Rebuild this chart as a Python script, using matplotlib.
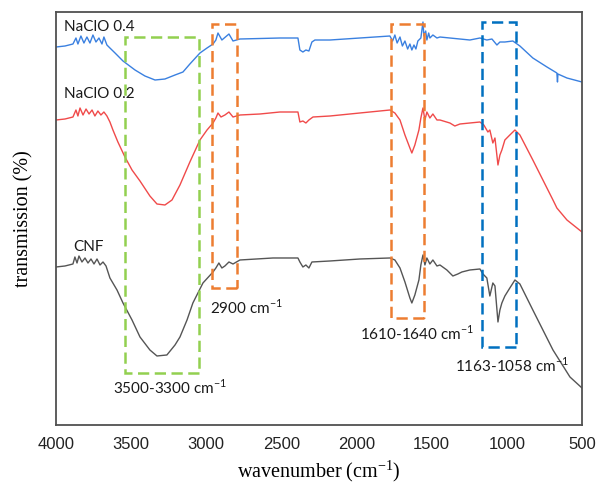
import matplotlib
matplotlib.use("Agg")
import matplotlib.pyplot as plt
from matplotlib.patches import Rectangle

# ── Data (transmission in arbitrary offset units) ─────────────────────────────
wn_04 = [4000, 3940, 3887, 3867, 3854, 3834, 3814, 3794, 3774, 3754, 3734, 3714,
         3694, 3681, 3661, 3641, 3607, 3554, 3474, 3408, 3341, 3275, 3208, 3155,
         3109, 3042, 2995, 2955, 2936, 2922, 2896, 2849, 2822, 2776, 2510, 2390,
         2377, 2357, 2337, 2317, 2297, 2277, 2177, 1978, 1778, 1760, 1745, 1730,
         1711, 1695, 1678, 1660, 1645, 1632, 1618, 1605, 1592, 1572, 1558, 1552,
         1540, 1532, 1520, 1512, 1492, 1465, 1445, 1379, 1246, 1179, 1133, 1099,
         1066, 1046, 1013, 960, 913, 827, 733, 667, 663, 660, 600, 500]
tr_04 = [378, 379, 381, 387, 381, 389, 382, 388, 382, 390, 383, 387,
         381, 388, 380, 377, 372, 364, 355, 349, 345, 346, 350, 353,
         361, 372, 377, 381, 385, 392, 385, 391, 384, 386, 387, 387,
         375, 373, 375, 374, 383, 385, 385, 387, 389, 384, 390, 382,
         388, 379, 384, 376, 381, 375, 380, 376, 384, 387, 403, 389,
         394, 385, 392, 387, 390, 387, 388, 387, 385, 387, 385, 386,
         380, 383, 383, 384, 379, 367, 358, 352, 343, 351, 347, 343]

wn_02 = [4000, 3940, 3887, 3867, 3854, 3840, 3820, 3800, 3780, 3760, 3741, 3721,
         3701, 3681, 3661, 3641, 3621, 3588, 3541, 3494, 3441, 3375, 3328, 3275,
         3228, 3175, 3109, 3042, 2995, 2955, 2936, 2922, 2902, 2876, 2849, 2822,
         2776, 2643, 2510, 2390, 2377, 2357, 2337, 2317, 2290, 2177, 1978, 1778,
         1745, 1711, 1678, 1645, 1632, 1612, 1585, 1572, 1558, 1545, 1532, 1512,
         1492, 1465, 1445, 1379, 1346, 1312, 1246, 1179, 1153, 1126, 1113, 1093,
         1079, 1059, 1046, 1033, 1013, 980, 946, 913, 827, 760, 693, 667, 600, 500]
tr_02 = [305, 306, 308, 315, 309, 317, 310, 316, 311, 315, 309, 314,
         310, 313, 309, 303, 295, 283, 268, 255, 244, 229, 221, 220,
         225, 240, 263, 285, 295, 302, 307, 312, 308, 310, 313, 308,
         310, 311, 313, 313, 303, 304, 302, 305, 308, 309, 312, 315,
         312, 305, 290, 277, 272, 280, 295, 307, 317, 305, 313, 307,
         311, 305, 305, 302, 299, 301, 302, 303, 300, 293, 295, 282,
         287, 260, 270, 275, 285, 290, 295, 290, 265, 245, 225, 217, 205, 193]

wn_cnf = [4000, 3940, 3887, 3874, 3860, 3847, 3827, 3807, 3787, 3767, 3747, 3727,
          3707, 3687, 3667, 3641, 3594, 3554, 3494, 3441, 3375, 3328, 3262, 3208,
          3175, 3128, 3089, 3022, 2955, 2936, 2916, 2896, 2876, 2849, 2822, 2776,
          2556, 2390, 2377, 2357, 2337, 2317, 2297, 2177, 1978, 1778, 1745, 1711,
          1678, 1645, 1632, 1612, 1585, 1572, 1558, 1545, 1532, 1512, 1492, 1465,
          1445, 1399, 1359, 1326, 1299, 1246, 1179, 1159, 1133, 1113, 1093, 1079,
          1059, 1046, 1033, 1013, 980, 946, 913, 827, 760, 693, 580, 500]
tr_cnf = [158, 159, 161, 168, 162, 169, 163, 167, 162, 166, 161, 166,
          160, 163, 159, 147, 135, 122, 105, 88, 75, 69, 70, 80,
          88, 105, 122, 142, 153, 157, 162, 157, 159, 163, 161, 165,
          167, 167, 163, 158, 160, 157, 163, 164, 166, 167, 165, 157,
          143, 127, 122, 130, 145, 160, 170, 160, 167, 161, 165, 159,
          160, 155, 149, 151, 153, 155, 156, 151, 147, 129, 142, 139,
          103, 115, 122, 129, 137, 145, 141, 115, 95, 75, 48, 37]

# highlighted bands: (wn_high, wn_low, tr_bottom, tr_top)
band_oh   = (3541, 3049, 52, 388)
band_ch   = (2962, 2796, 137, 401)
band_co   = (1771, 1552, 107, 401)
band_coc  = (1166, 940, 78, 403)

# ── Plot ──────────────────────────────────────────────────────────────────────
fig = plt.figure(figsize=(5.98, 4.90), dpi=100)
ax = fig.add_axes([0.0936, 0.1327, 0.8796, 0.8428])

ax.plot(wn_04, tr_04, color="#3a80e0", linewidth=1.0)
ax.plot(wn_02, tr_02, color="#f04a4a", linewidth=1.0)
ax.plot(wn_cnf, tr_cnf, color="#555555", linewidth=1.0)

dash = (0, (4.5, 2.2))
for (hi, lo, bot, top), col in [(band_oh, "#92d050"), (band_ch, "#ed7d31"),
                                (band_co, "#ed7d31"), (band_coc, "#0070c0")]:
    ax.add_patch(Rectangle((lo, bot), hi - lo, top - bot, fill=False,
                           edgecolor=col, linewidth=1.8, linestyle=dash, zorder=5))

note = dict(fontsize=11, family=["Lato", "DejaVu Sans"], va="center", ha="left",
            color="#1a1a1a")
sup = r"cm$^{\mathregular{-1}}$"
ax.text(3947, 398, "NaClO 0.4", **note)
ax.text(3947, 331, "NaClO 0.2", **note)
ax.text(3887, 178, "CNF", **note)
ax.text(2975, 118, "2900 " + sup, **note)
ax.text(3621, 38, "3500-3300 " + sup, **note)
ax.text(1978, 92, "1610-1640 " + sup, **note)
ax.text(1346, 60, "1163-1058 " + sup, **note)

ax.set_xlim(4000, 500)
ax.set_ylim(0, 413)
ax.set_xticks([4000, 3500, 3000, 2500, 2000, 1500, 1000, 500])
ax.set_yticks([])
ax.tick_params(axis="x", length=0, pad=9, labelsize=12)
for lbl in ax.get_xticklabels():
    lbl.set_family("Liberation Sans")
    lbl.set_color("#222222")

for sp in ax.spines.values():
    sp.set_color("#505050")
    sp.set_linewidth(1.3)

ax.set_xlabel(r"wavenumber (cm$^{\mathregular{-1}}$)", family="Liberation Serif",
              fontsize=14.5, labelpad=4)
ax.set_ylabel("transmission (%)", family="Liberation Serif", fontsize=14.5, labelpad=16)

plt.savefig("out.png", dpi=100)
